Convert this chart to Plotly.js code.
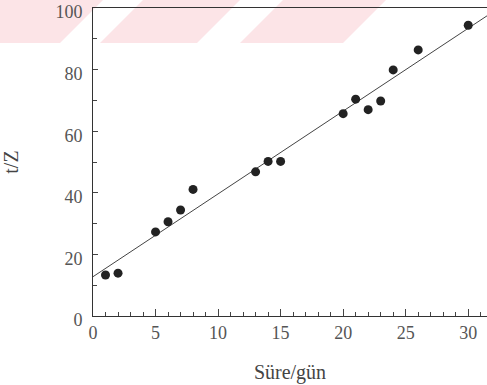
<!DOCTYPE html>
<html>
<head>
<meta charset="utf-8">
<script src="https://cdn.plot.ly/plotly-3.0.1.min.js"></script>
<style>html,body{margin:0;padding:0;background:#fff;}#chart{width:487px;height:385px;}</style>
</head>
<body>
<div id="chart"></div>
<script>
// Data
const days = [1, 2, 5, 6, 7, 8, 13, 14, 15, 20, 21, 22, 23, 24, 26, 30];
const tOverZ = [13.3, 13.9, 27.3, 30.6, 34.4, 41.1, 46.8, 50.2, 50.2, 65.7, 70.4, 67.0, 69.8, 79.9, 86.4, 94.4];
const xTickVals = [0, 5, 10, 15, 20, 25, 30];
const yTickVals = [0, 20, 40, 60, 80, 100];
const xTitle = 'Süre/gün';
const yTitle = 't/Z';

// least-squares fit
const n = days.length;
const mx = days.reduce((a, b) => a + b, 0) / n;
const my = tOverZ.reduce((a, b) => a + b, 0) / n;
let sxy = 0, sxx = 0;
for (let i = 0; i < n; i++) { sxy += (days[i] - mx) * (tOverZ[i] - my); sxx += (days[i] - mx) ** 2; }
const slope = sxy / sxx, icpt = my - slope * mx;

const XMAX = 31.5;
const lineX = [0, XMAX];
const lineY = lineX.map(x => icpt + slope * x);

// layout geometry
const W = 487, H = 385, L = 93, R = 0, T = 8, B = 69;
const pw = W - L - R, ph = H - T - B;
const px = x => (x - L) / pw;
const py = y => (H - B - y) / ph;
const stripes = [
  [[0, 43], [60, 43], [103, 0], [0, 0]],
  [[100, 43], [197, 43], [240, 0], [143, 0]],
  [[240, 43], [343, 43], [386, 0], [283, 0]]
];
const shapes = stripes.map(poly => ({
  type: 'path', xref: 'paper', yref: 'paper', layer: 'below',
  path: 'M' + poly.map(p => px(p[0]).toFixed(4) + ',' + py(p[1]).toFixed(4)).join(' L') + ' Z',
  fillcolor: 'rgb(252,228,231)', line: {width: 0}
}));

const serif = 'Liberation Serif';

Plotly.newPlot('chart', [
  {x: lineX, y: lineY, mode: 'lines', line: {color: '#444', width: 1}, hoverinfo: 'skip'},
  {x: days, y: tOverZ, mode: 'markers', marker: {color: '#222', size: 9}}
], {
  width: W, height: H,
  margin: {l: L, r: R, t: T, b: B},
  paper_bgcolor: '#fff', plot_bgcolor: 'rgba(0,0,0,0)',
  showlegend: false,
  shapes: shapes,
  xaxis: {
    range: [0, XMAX], tickvals: xTickVals, ticks: 'inside', ticklen: 7, tickwidth: 1, tickcolor: '#444',
    minor: {dtick: 1, ticks: 'inside', ticklen: 4, tickcolor: '#444'},
    showline: true, linecolor: '#333', linewidth: 1, mirror: true, showgrid: false, zeroline: false,
    tickfont: {family: serif, size: 18, color: '#555'}, ticklabeloverflow: 'allow',
    title: {text: xTitle, font: {family: serif, size: 20, color: '#444'}, standoff: 23}
  },
  yaxis: {
    range: [0, 100], tickvals: yTickVals, ticks: 'inside', ticklen: 5, tickwidth: 1, tickcolor: '#444',
    minor: {dtick: 10, ticks: 'inside', ticklen: 4, tickcolor: '#444'},
    showline: true, linecolor: '#333', linewidth: 1, showgrid: false, zeroline: false,
    tickfont: {family: serif, size: 18, color: '#555'}, ticklabelstandoff: 6, ticklabeloverflow: 'allow',
    ticklabelshift: 4,
    title: {text: yTitle, font: {family: serif, size: 20, color: '#444'}, standoff: 37}
  }
}, {displayModeBar: false, staticPlot: true});
</script>
</body>
</html>
